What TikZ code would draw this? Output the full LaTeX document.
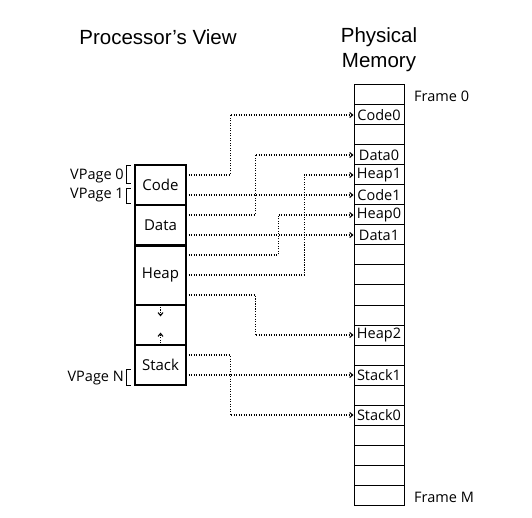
\documentclass[tikz,border=0pt]{standalone}
\usepackage{fontspec}
\setmainfont{Open Sans}
\newfontfamily\titlefont{Liberation Sans}
\usetikzlibrary{arrows.meta}
\begin{document}
\begin{tikzpicture}[x=1pt,y=-1pt,
  cell/.style={draw, line width=1pt, minimum width=50pt, minimum height=20pt, inner sep=0pt, font=\fontsize{14.5}{14.5}\selectfont},
  seg/.style={draw, line width=1.2pt, minimum width=51pt, inner sep=0pt, font=\fontsize{15}{15}\selectfont},
  vpage/.style={inner sep=0pt, minimum width=51pt, minimum height=20pt},
  link/.style={line width=1.2pt, dash pattern=on 1.1pt off 1.4pt, -{Straight Barb[length=3pt,width=5pt,line width=1.1pt]}},
  brk/.style={line width=1pt},
  lbl/.style={font=\fontsize{14.5}{14.5}\selectfont, inner sep=0pt},
  title/.style={font=\titlefont\fontsize{20.5}{20.5}\selectfont, inner sep=0pt},
]
\useasboundingbox (0,0) rectangle (532,518);

% titles
\node[title] (t1) at (158,37) {Processor’s View};
\node[title] (t2) at (379,37) {Physical};
\node[title] (t3) at (379,63) {Memory};

% physical memory cells
\foreach \i/\t in {0/,1/Code0,2/,3/Data0,4/Heap1,5/Code1,6/Heap0,7/Data1,8/,9/,10/,11/,12/Heap2,13/,14/Stack1,15/,16/Stack0,17/,18/,19/,20/}
  \node[cell] (m\i) at (379,95+20*\i) {\t};

\node[lbl, anchor=west] (f0) at (414,96) {Frame 0};
\node[lbl, anchor=west] (fm) at (414,497) {Frame M};

% processor view segments
\node[seg, minimum height=40pt] (code) at (160.5,185) {Code};
\node[seg, minimum height=40pt] (data) at (160.5,225) {Data};
\node[seg, minimum height=60pt] (heap) at (160.5,275) {\raisebox{2pt}{Heap}};
\node[seg, minimum height=40pt] (dots) at (160.5,325) {};
\node[seg, minimum height=40pt] (stack) at (160.5,365) {Stack};
\draw[line width=2pt] (data.south west) -- (data.south east);

% virtual pages
\foreach \k in {0,...,10}
  \node[vpage] (v\k) at (160.5,175+20*\k) {};

% growth arrows
\draw[link] (dots.north) -- ++(0,12);
\draw[link] (dots.south) -- ++(0,-13);

% page labels
\node[lbl, anchor=east] (l0) at (124,176) {VPage 0};
\node[lbl, anchor=east] (l1) at (124,195) {VPage 1};
\node[lbl, anchor=east] (ln) at (124,378) {VPage N};
\draw[brk] (130.5,166) -- (126,166) -- (126,184) -- (130.5,184);
\draw[brk] (130.5,189) -- (126,189) -- (126,204) -- (130.5,204);
\draw[brk] (130.5,369) -- (126,369) -- (126,385) -- (130.5,385);

% mappings
\draw[link] (v0.east) -- ++(44,0) |- (m1.west);
\draw[link] (v1.east) -- (m5.west);
\draw[link] (v2.east) -- ++(69,0) |- (m3.west);
\draw[link] (v3.east) -- (m7.west);
\draw[link] (v4.east) -- ++(92,0) |- (m6.west);
\draw[link] (v5.east) -- ++(118,0) |- (m4.west);
\draw[link] (v6.east) -- ++(69,0) |- (m12.west);
\draw[link] (v9.east) -- ++(44,0) |- (m16.west);
\draw[link] (v10.east) -- (m14.west);
\end{tikzpicture}
\end{document}
